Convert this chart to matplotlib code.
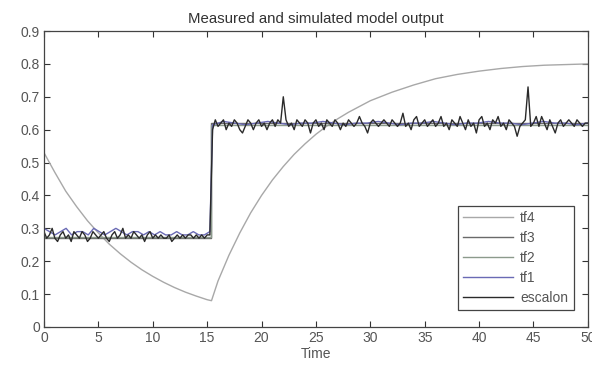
#!/usr/bin/env python3
import numpy as np
import matplotlib
matplotlib.use('Agg')
import matplotlib.pyplot as plt

plt.rcParams['font.family'] = ['Liberation Sans', 'DejaVu Sans']

# measured signal (escalon), 0.25 s spacing
escalon_pre = [0.29, 0.27, 0.28, 0.30, 0.27, 0.26, 0.28, 0.29, 0.27, 0.28, 0.26, 0.29,
               0.28, 0.27, 0.29, 0.28, 0.26, 0.27, 0.29, 0.28, 0.27, 0.28, 0.29, 0.27,
               0.26, 0.28, 0.29, 0.27, 0.28, 0.30, 0.27, 0.28, 0.27, 0.29, 0.28, 0.27,
               0.28, 0.26, 0.28, 0.29, 0.27, 0.28, 0.27, 0.28, 0.27, 0.27, 0.28, 0.26,
               0.27, 0.28, 0.27, 0.28, 0.27, 0.28, 0.28, 0.27, 0.28, 0.27, 0.28, 0.27,
               0.28, 0.28]
escalon_post = [0.60, 0.63, 0.61, 0.62, 0.63, 0.60, 0.62, 0.61, 0.63, 0.62, 0.60, 0.59,
                0.61, 0.63, 0.62, 0.60, 0.62, 0.63, 0.61, 0.62, 0.60, 0.62, 0.63, 0.61,
                0.63, 0.62, 0.70, 0.63, 0.61, 0.62, 0.60, 0.63, 0.62, 0.61, 0.63, 0.62,
                0.59, 0.62, 0.63, 0.61, 0.62, 0.60, 0.63, 0.62, 0.61, 0.63, 0.62, 0.60,
                0.62, 0.61, 0.63, 0.62, 0.61, 0.62, 0.64, 0.62, 0.61, 0.59, 0.62, 0.63,
                0.62, 0.61, 0.62, 0.63, 0.62, 0.61, 0.63, 0.62, 0.61, 0.62, 0.65, 0.61,
                0.62, 0.60, 0.63, 0.64, 0.61, 0.62, 0.63, 0.61, 0.62, 0.63, 0.61, 0.62,
                0.64, 0.61, 0.62, 0.60, 0.63, 0.62, 0.61, 0.64, 0.62, 0.60, 0.63, 0.61,
                0.62, 0.59, 0.63, 0.64, 0.61, 0.62, 0.60, 0.63, 0.62, 0.64, 0.61, 0.62,
                0.60, 0.63, 0.62, 0.61, 0.58, 0.61, 0.62, 0.63, 0.73, 0.61, 0.62, 0.64,
                0.61, 0.64, 0.62, 0.60, 0.63, 0.61, 0.59, 0.62, 0.63, 0.61, 0.62, 0.63,
                0.62, 0.61, 0.63, 0.62, 0.61, 0.62, 0.62]

# tf1 (0.5 s spacing before the step, 1 s after)
tf1_pre = [0.30, 0.29, 0.28, 0.29, 0.30, 0.28, 0.29, 0.29, 0.28, 0.30, 0.29, 0.28,
           0.29, 0.30, 0.29, 0.28, 0.29, 0.29, 0.28, 0.29, 0.28, 0.29, 0.28, 0.28,
           0.29, 0.28, 0.28, 0.29, 0.28, 0.28, 0.29]
tf1_post = [0.615, 0.625, 0.62, 0.615, 0.62, 0.625, 0.62, 0.615, 0.62, 0.62, 0.625, 0.62,
            0.615, 0.62, 0.62, 0.625, 0.62, 0.615, 0.62, 0.62, 0.625, 0.62, 0.615, 0.62,
            0.62, 0.625, 0.62, 0.62, 0.615, 0.62, 0.625, 0.62, 0.62, 0.615, 0.62]

# tf2 / tf3 step levels
tf2_levels = [0.275, 0.615]
tf3_levels = [0.27, 0.62]

# tf4 first order response
tf4_t = [0, 1, 2, 3, 4, 5, 6, 7, 8, 9, 10, 11, 12, 13, 14, 15, 15.4,
         16, 17, 18, 19, 20, 21, 22, 23, 24, 25, 26, 27, 28, 30, 32, 34,
         36, 38, 40, 42, 44, 46, 48, 50]
tf4_y = [0.53, 0.470, 0.413, 0.366, 0.323, 0.286, 0.252, 0.223, 0.197, 0.174, 0.154,
         0.136, 0.120, 0.106, 0.094, 0.083, 0.080,
         0.14, 0.218, 0.286, 0.347, 0.400, 0.447, 0.488, 0.525, 0.557, 0.586, 0.611,
         0.633, 0.653, 0.688, 0.714, 0.736, 0.755, 0.768, 0.778, 0.786, 0.792, 0.796,
         0.798, 0.80]

step_t = 15.4

fig = plt.figure(figsize=(5.92, 3.71), dpi=100)
ax = fig.add_axes([0.0743, 0.1186, 0.9187, 0.7978])

t_e = np.concatenate([np.linspace(0, 15.25, len(escalon_pre)),
                      np.linspace(15.5, 50, len(escalon_post))])
y_e = np.concatenate([escalon_pre, escalon_post])
t_1 = np.concatenate([np.linspace(0, 15.25, len(tf1_pre)),
                      np.linspace(15.5, 50, len(tf1_post))])
y_1 = np.concatenate([tf1_pre, tf1_post])
t_s = [0, step_t, step_t, 50]

ax.plot(tf4_t, tf4_y, color='#a8a8a8', lw=1.0, label='tf4')
ax.plot(t_s, [tf3_levels[0], tf3_levels[0], tf3_levels[1], tf3_levels[1]],
        color='#6a6a6a', lw=1.0, label='tf3')
ax.plot(t_s, [tf2_levels[0], tf2_levels[0], tf2_levels[1], tf2_levels[1]],
        color='#8c9a8c', lw=1.0, label='tf2')
ax.plot(t_1, y_1, color='#6a6ab4', lw=1.0, label='tf1')
ax.plot(t_e, y_e, color='#2a2a2a', lw=1.0, label='escalon')

ax.set_xlim(0, 50)
ax.set_ylim(0, 0.9)
ax.set_xticks(np.arange(0, 51, 5))
ax.set_yticks(np.arange(0, 0.91, 0.1))
ax.set_yticklabels(['0', '0.1', '0.2', '0.3', '0.4', '0.5', '0.6', '0.7', '0.8', '0.9'])
ax.tick_params(direction='in', top=True, right=True, labelsize=10, length=4,
               colors='#333333', labelcolor='#555555', pad=3)
for s in ax.spines.values():
    s.set_color('#444444')
    s.set_linewidth(0.9)

ax.set_xlabel('Time', fontsize=10, color='#555555', labelpad=1)
ax.set_title('Measured and simulated model output', fontsize=10.8, color='#333333', pad=6)

leg = ax.legend(loc='lower right', bbox_to_anchor=(0.974, 0.057), borderaxespad=0,
                fontsize=10, handlelength=3.6, labelspacing=0.42, borderpad=0.4,
                handletextpad=0.5, fancybox=False, framealpha=1)
leg.get_frame().set_edgecolor('#444444')
leg.get_frame().set_linewidth(0.9)
for txt in leg.get_texts():
    txt.set_color('#555555')

fig.savefig('out.png', dpi=100)
